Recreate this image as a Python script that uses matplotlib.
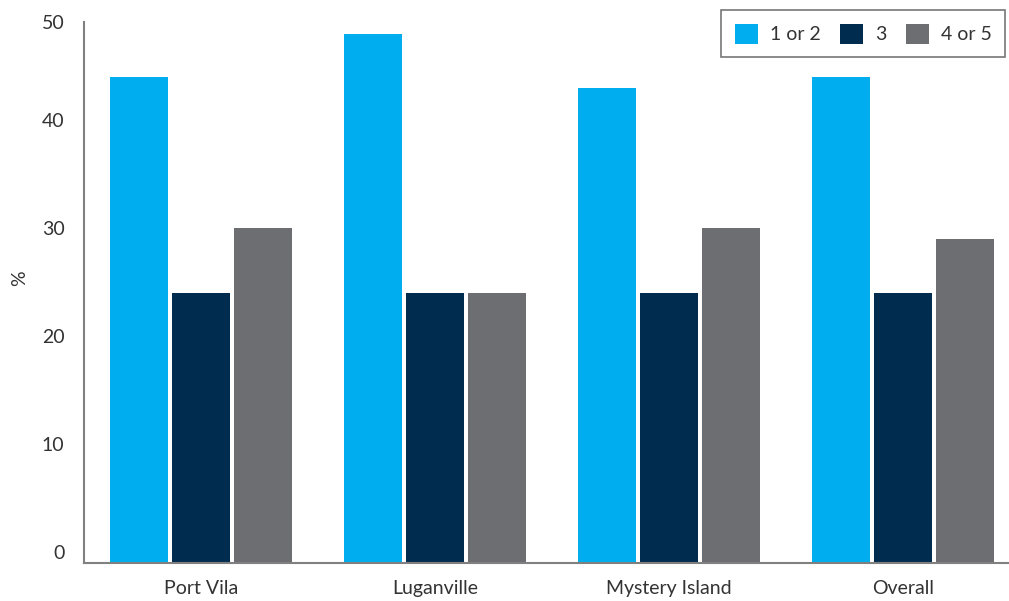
import numpy as np
import matplotlib.pyplot as plt
from matplotlib.patches import Patch

# Data
locations = ['Port Vila', 'Luganville', 'Mystery Island', 'Overall']
series_names = ['1 or 2', '3', '4 or 5']
rating_12 = [44, 48, 43, 44]
rating_3 = [24, 24, 24, 24]
rating_45 = [30, 24, 30, 29]
colors = ['#00ADEE', '#002D4F', '#6D6E71']

plt.rcParams['font.family'] = ['Lato', 'DejaVu Sans']

fig = plt.figure(figsize=(10.09, 6.01), dpi=100)
ax = fig.add_axes([84 / 1009, 38 / 601, 1 - 84 / 1009, (563 - 22) / 601])

ymin, ymax = -1.02, 49.07
x = np.arange(len(locations))
width = 0.244
step = 0.265
for i, (vals, c) in enumerate(zip([rating_12, rating_3, rating_45], colors)):
    vals = np.array(vals)
    ax.bar(x + (i - 1) * step, vals - ymin, width, bottom=ymin, color=c)

ax.set_ylim(ymin, ymax)
ax.set_xlim(-0.5, 3.453)
ax.set_yticks([0, 10, 20, 30, 40, ymax])
ax.set_yticklabels(['0', '10', '20', '30', '40', '50'])
ax.set_xticks(x)
ax.set_xticklabels(locations)
ax.tick_params(axis='both', length=0, labelsize=14, colors='#333333')
ax.tick_params(axis='y', pad=14)
ax.tick_params(axis='x', pad=12)
ax.set_ylabel('%', fontsize=14, color='#333333')
ax.yaxis.set_label_coords(-0.0605, 0.527)

for s in ['top', 'right']:
    ax.spines[s].set_visible(False)
ax.spines['left'].set_color('#808080')
ax.spines['left'].set_linewidth(1.5)
ax.spines['bottom'].set_color('#808080')
ax.spines['bottom'].set_linewidth(1.5)

handles = [Patch(facecolor=c, edgecolor='none') for c in colors]
leg = ax.legend(handles, series_names, loc='upper right', ncol=3, fontsize=14,
                frameon=True, fancybox=False, edgecolor='#555555',
                handlelength=1.2, handleheight=1.2, handletextpad=0.6,
                columnspacing=1.0, borderpad=0.7, borderaxespad=0,
                bbox_to_anchor=((1005 - 84) / 925, (563 - 10) / 541))
leg.get_frame().set_linewidth(1.2)
for t in leg.get_texts():
    t.set_color('#333333')

fig.savefig('out.png', dpi=100)
